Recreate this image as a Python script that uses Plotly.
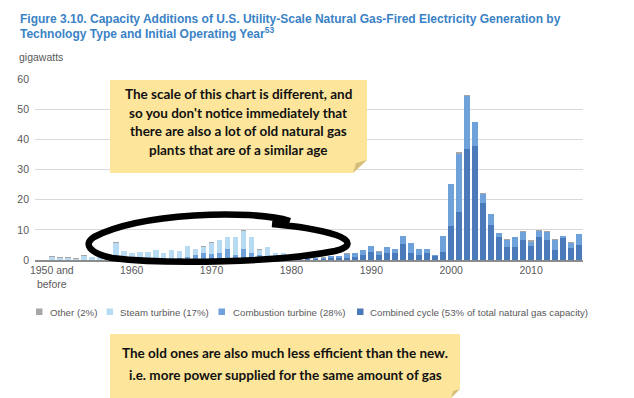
import plotly.graph_objects as go

# ---------------- data ----------------
years = list(range(1950, 2017))

combined_cycle = [0]*17 + [
    0.2, 0.3, 0.4, 0.5, 0.5, 0.6, 0.4, 0.5, 0.4, 0.3, 0.2, 0.2, 0.2,
    0.3, 0.2, 0.2, 0.2, 0.3, 0.5, 0.5, 0.8, 1.0, 1.6,
    2.7, 1.6, 2.4, 2.4, 5.2, 2.4, 1.6, 2.4, 1.3, 2.6,
    11.2, 15.8, 36.8, 37.8, 18.9, 11.6, 7.6, 4.4, 4.4, 6.5,
    4.6, 7.6, 6.5, 3.2, 7.3, 4.1, 5.1]

combustion_turbine = [0]*13 + [
    0.2, 0.2, 0.3, 0.5, 0.8, 1.3, 1.8,
    1.5, 1.7, 2.9, 1.2, 3.0, 2.0, 1.3, 1.1, 0.6, 0.6,
    0.8, 0.6, 0.5, 0.4, 0.5, 0.8, 0.8, 1.3, 1.3, 1.6,
    2.0, 1.2, 1.8, 1.1, 2.6, 3.3, 1.9, 1.1, 0.4, 5.2,
    13.9, 19.5, 17.6, 7.8, 3.1, 3.5, 1.4, 2.3, 3.1, 2.9,
    1.5, 2.1, 2.9, 3.5, 0.5, 1.7, 3.4]

steam_turbine = [
    1.0, 0.7, 0.7, 0.4, 1.4, 0.9, 1.1, 1.4, 5.8, 2.9,
    2.3, 2.6, 2.6, 3.1, 2.1, 3.0, 2.4, 3.7, 2.1, 2.2,
    3.8, 4.3, 4.1, 6.0, 6.2, 5.1, 1.8, 3.0, 1.5, 1.5,
    0.3, 0.1, 0.1] + [0]*34

other = [
    0.2, 0.2, 0.2, 0.1, 0.2, 0.1, 0.1, 0.1, 0.1, 0.1] + [0.1]*40 + [
    0.1, 0.5, 0.4, 0.2, 0.1, 0.1, 0.1, 0.1, 0.1, 0.1,
    0.4, 0.1, 0.1, 0.1, 0.1, 0.1, 0.1]

series_names = ["Combined cycle", "Combustion turbine", "Steam turbine", "Other"]
legend_labels = ["Other (2%)", "Steam turbine (17%)", "Combustion turbine (28%)",
                 "Combined cycle (53% of total natural gas capacity)"]
colors = {"Combined cycle": "#4b7aba", "Combustion turbine": "#6fa1da",
          "Steam turbine": "#b6dbf3", "Other": "#aaa5a5"}

y_ticks = [0, 10, 20, 30, 40, 50, 60]
x_tickvals = [1950, 1960, 1970, 1980, 1990, 2000, 2010]
x_ticktext = ["1950 and<br>before", "1960", "1970", "1980", "1990", "2000", "2010"]

title_lines = ["<b>Figure 3.10. Capacity Additions of U.S. Utility-Scale Natural Gas-Fired Electricity Generation by</b>",
               "<b>Technology Type and Initial Operating Year<sup>53</sup></b>"]
note1_lines = ["The scale of this chart is different, and",
               "so you don't notice immediately that",
               "there are also a lot of old natural gas",
               "plants that are of a similar age"]
note2_lines = ["The old ones are also much less efficient than the new.",
               "i.e. more power supplied for the same amount of gas"]

# ---------------- geometry helpers ----------------
W, H = 634, 398
ML, MR, MT, MB = 35, 51, 79, 138
PW, PH = W - ML - MR, H - MT - MB


def pp(x, y):
    return (x - ML) / PW, 1 - (y - MT) / PH


def path_from(cmds):
    out = []
    for c in cmds:
        if isinstance(c, str):
            out.append(c)
        else:
            a, b = pp(*c)
            out.append(f"{a:.5f},{b:.5f}")
    return " ".join(out)


SANS = "Liberation Sans, Arial, sans-serif"
HAND = "Lato, Open Sans, sans-serif"
GREY = "#595959"

# ---------------- figure ----------------
fig = go.Figure()
vals = {"Combined cycle": combined_cycle, "Combustion turbine": combustion_turbine,
        "Steam turbine": steam_turbine, "Other": other}
for name in series_names:
    fig.add_trace(go.Bar(x=years, y=vals[name], name=name,
                         marker=dict(color=colors[name], line=dict(width=0)),
                         showlegend=False, hoverinfo="skip"))

shapes = []
annotations = []

# manual legend
leg_items = [("Other", legend_labels[0], 36, 47.5),
             ("Steam turbine", legend_labels[1], 106.5, 117.5),
             ("Combustion turbine", legend_labels[2], 218.5, 231),
             ("Combined cycle", legend_labels[3], 357, 367.5)]
for key, lab, sx, tx in leg_items:
    x0, y0 = pp(sx, 308.5)
    x1, y1 = pp(sx + 6.5, 315)
    shapes.append(dict(type="rect", xref="paper", yref="paper", x0=x0, x1=x1,
                       y0=y1, y1=y0, fillcolor=colors[key], line=dict(width=0)))
    ax, ay = pp(tx, 312)
    annotations.append(dict(text=lab, xref="paper", yref="paper", x=ax, y=ay,
                            xanchor="left", yanchor="middle", showarrow=False,
                            font=dict(family=SANS, size=9.7, color=GREY)))

# sticky note 1
shapes.append(dict(type="path", xref="paper", yref="paper", layer="above",
                   path=path_from(["M", (110, 80), "L", (367, 80), "L", (367, 160),
                                   "L", (353, 173), "L", (110, 173), "Z"]),
                   fillcolor="#fde69c", line=dict(width=0)))
shapes.append(dict(type="path", xref="paper", yref="paper", layer="above",
                   path=path_from(["M", (367, 160), "L", (353, 173), "L", (356, 163), "Z"]),
                   fillcolor="#d6bf7c", line=dict(width=0)))
for i, line in enumerate(note1_lines):
    ax, ay = pp(238, 94 + i * 18.5)
    annotations.append(dict(text=line, xref="paper", yref="paper", x=ax, y=ay,
                            xanchor="center", yanchor="middle", showarrow=False,
                            font=dict(family=HAND, size=13.5, color="#111111", weight="bold")))

# sticky note 2
shapes.append(dict(type="path", xref="paper", yref="paper", layer="above",
                   path=path_from(["M", (110, 334), "L", (460, 334), "L", (460, 389),
                                   "L", (451, 398), "L", (110, 398), "Z"]),
                   fillcolor="#fde69c", line=dict(width=0)))
shapes.append(dict(type="path", xref="paper", yref="paper", layer="above",
                   path=path_from(["M", (460, 389), "L", (451, 398), "L", (453, 391), "Z"]),
                   fillcolor="#d6bf7c", line=dict(width=0)))
for i, line in enumerate(note2_lines):
    ax, ay = pp(285, 353 + i * 22)
    annotations.append(dict(text=line, xref="paper", yref="paper", x=ax, y=ay,
                            xanchor="center", yanchor="middle", showarrow=False,
                            font=dict(family=HAND, size=13.5, color="#111111", weight="bold")))

# hand-drawn ellipse
shapes.append(dict(type="path", xref="paper", yref="paper", layer="above",
                   path=path_from(["M", (290, 221),
                                   "C", (250, 209), (140, 213), (94, 237),
                                   "C", (83, 244), (89, 253), (112, 258),
                                   "C", (170, 265), (280, 262), (335, 251),
                                   "C", (352, 247), (351, 240), (336, 235),
                                   "C", (320, 230), (296, 226), (272, 224)]),
                   line=dict(color="#000000", width=6.5)))

# title and unit label
title_y = [18.5, 33.5]
for i, line in enumerate(title_lines):
    ax, ay = pp(18, title_y[i])
    annotations.append(dict(text=line, xref="paper", yref="paper", x=ax, y=ay,
                            xanchor="left", yanchor="middle", align="left", showarrow=False,
                            font=dict(family=SANS, size=12, color="#3a82c6")))
ax, ay = pp(17, 57)
annotations.append(dict(text="gigawatts", xref="paper", yref="paper", x=ax, y=ay,
                        xanchor="left", yanchor="middle", showarrow=False,
                        font=dict(family=SANS, size=10.5, color=GREY)))

fig.update_layout(
    width=W, height=H, autosize=False,
    margin=dict(l=ML, r=MR, t=MT, b=MB, pad=0),
    paper_bgcolor="white", plot_bgcolor="white",
    barmode="stack", bargap=0.28,
    shapes=shapes, annotations=annotations,
    showlegend=False, hovermode=False,
    xaxis=dict(range=[1947.9, 2016.5], tickvals=x_tickvals, ticktext=x_ticktext,
               showgrid=False, zeroline=False, showline=True, linecolor="#8c8c8c",
               linewidth=1.5, ticks="", tickfont=dict(family=SANS, size=10.5, color=GREY)),
    yaxis=dict(range=[0, 60], tickvals=y_ticks, showgrid=True, gridcolor="#d9d9d9",
               gridwidth=1, zeroline=False, showline=False, ticks="",
               ticklabelstandoff=5,
               tickfont=dict(family=SANS, size=10.5, color=GREY)),
)

fig.write_html("out.html", config={"displayModeBar": False, "staticPlot": True},
               post_script="document.body.style.margin='0px';")
